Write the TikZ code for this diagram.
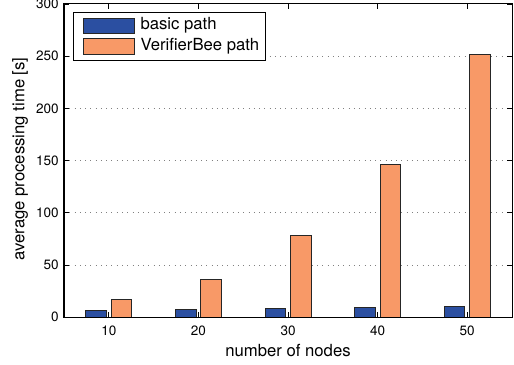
\documentclass[tikz,border=0pt]{standalone}
\usepackage{fontspec}
\setmainfont{TeX Gyre Heros}
\definecolor{basicblue}{RGB}{43,79,161}
\definecolor{beeorange}{RGB}{248,153,103}
\tikzset{
  bar/.style={draw=black!85, line width=0.5pt},
  gridline/.style={gray, line width=0.4pt, dash pattern=on 0.4pt off 2.6pt},
  ticklabel/.style={font=\fontsize{7.7}{9}\selectfont}
}
\begin{document}
\begin{tikzpicture}[x=0.1792cm, y=0.020867cm, font=\fontsize{9.5}{11}\selectfont]
\useasboundingbox (-2.143,-45.05) rectangle (55.22,303.8);
% horizontal grid
\draw [gridline] (5,50) -- (55,50);
\draw [gridline] (5,100) -- (55,100);
\draw [gridline] (5,150) -- (55,150);
\draw [gridline] (5,200) -- (55,200);
\draw [gridline] (5,250) -- (55,250);
% bars
\draw [bar, fill=basicblue] (7.43,0) rectangle (9.73,6);
\draw [bar, fill=beeorange] (10.27,0) rectangle (12.57,16.5);
\draw [bar, fill=basicblue] (17.43,0) rectangle (19.73,7);
\draw [bar, fill=beeorange] (20.27,0) rectangle (22.57,36);
\draw [bar, fill=basicblue] (27.43,0) rectangle (29.73,8);
\draw [bar, fill=beeorange] (30.27,0) rectangle (32.57,78);
\draw [bar, fill=basicblue] (37.43,0) rectangle (39.73,9.5);
\draw [bar, fill=beeorange] (40.27,0) rectangle (42.57,146);
\draw [bar, fill=basicblue] (47.43,0) rectangle (49.73,10.5);
\draw [bar, fill=beeorange] (50.27,0) rectangle (52.57,252);
% axes box and ticks
\draw [line width=0.6pt] (5,0) rectangle (55,300);
\foreach \x in {10,20,30,40,50} {
  \draw (\x,0) -- (\x,4.8);
  \draw (\x,300) -- (\x,295.2);
  \node (xl\x) [ticklabel] at (\x,-13.4) {\x};
}
\foreach \y in {0,50,100,150,200,250,300} {
  \draw (5,\y) -- (5.56,\y);
  \draw (55,\y) -- (54.44,\y);
  \node (yl\y) [ticklabel, left, inner sep=0pt] at (4.44,\y) {\y};
}
\node (xlab) at (30,-31.6) {number of nodes};
\node (ylab) [rotate=90] at (0.09,151.4) {average processing time [s]};
% legend
\draw [fill=white, line width=0.5pt] (6,246.3) rectangle (27.43,292.3);
\draw [bar, fill=basicblue] (7.12,272.2) rectangle (12.81,286.6);
\draw [bar, fill=beeorange] (7.12,252.1) rectangle (12.81,267.4);
\node (basic) [right] at (12.85,279.4) {basic path};
\node (bee) [right] at (12.85,259.8) {VerifierBee path};
\end{tikzpicture}
\end{document}
